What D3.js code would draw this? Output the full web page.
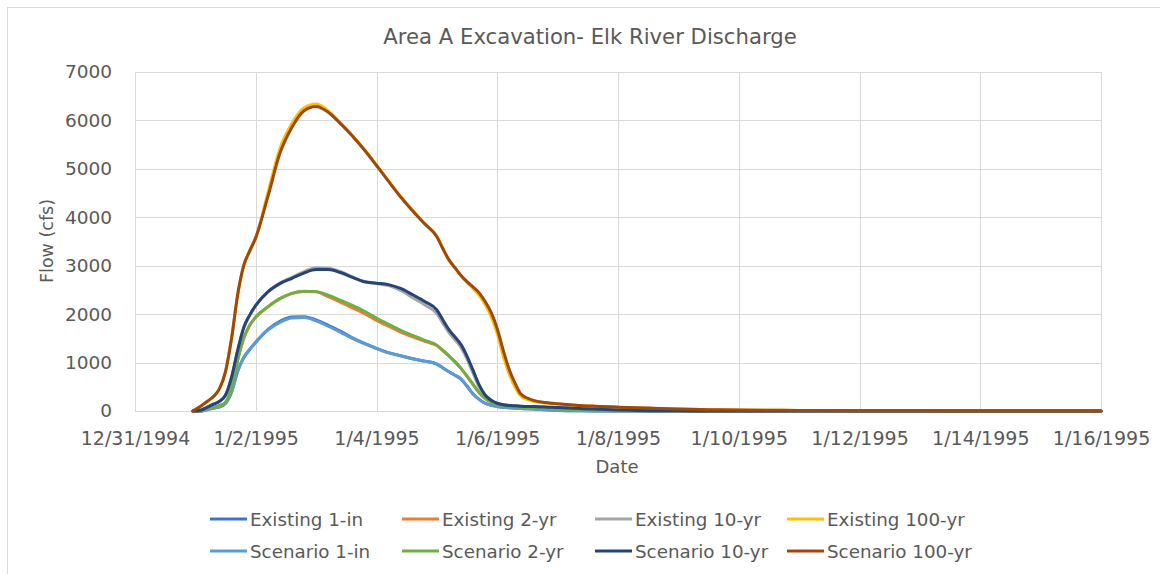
<!DOCTYPE html>
<html><head><meta charset="utf-8">
<script src="https://cdn.jsdelivr.net/npm/d3@7"></script>
<style>
html,body{margin:0;padding:0;background:#fff;}
svg{display:block;font-family:"DejaVu Sans",sans-serif;}
</style></head>
<body><svg id="chart" width="1160" height="574"></svg>
<script>
// ---- DATA ----
const title = "Area A Excavation- Elk River Discharge";
const xTitle = "Date";
const yTitle = "Flow (cfs)";
const startDate = new Date(1994, 11, 31);
const xTickDays = [0, 2, 4, 6, 8, 10, 12, 14, 16];
const yTicks = [0, 1000, 2000, 3000, 4000, 5000, 6000, 7000];
// time in days since 12/31/1994 00:00
const days = [0.96,1.0,1.1,1.2,1.3,1.4,1.5,1.6,1.7,1.8,1.9,2.0,2.2,2.4,2.6,2.8,3.0,3.2,3.4,3.6,3.8,4.0,4.2,4.4,4.6,4.8,5.0,5.1,5.2,5.3,5.4,5.5,5.6,5.7,5.8,5.9,6.0,6.1,6.2,6.3,6.4,6.6,6.8,7.0,7.3,7.6,8.0,8.5,9.0,9.5,10.0,11.0,12.0,13.0,14.0,15.0,16.0];

const existing1in  = [0,0,0,30,60,85,160,400,820,1100,1270,1420,1680,1850,1940,1945,1880,1770,1650,1510,1395,1295,1205,1140,1080,1030,970,890,810,740,660,510,350,240,160,120,95,76,65,58,50,40,25,10,5,2,1,1,1,1,1,1,1,1,1,1,1];
const existing2yr  = [0,0,5,50,80,110,180,480,1050,1500,1770,1940,2150,2320,2430,2470,2460,2360,2250,2130,2010,1870,1750,1630,1530,1440,1350,1245,1135,1015,875,715,545,378,258,184,140,105,90,82,76,65,50,38,22,12,5,2,1,1,1,1,1,1,1,1,1];
const existing10yr = [0,0,20,80,140,200,330,700,1250,1720,1980,2180,2460,2640,2760,2880,2960,2950,2880,2770,2670,2630,2590,2490,2340,2190,2010,1810,1620,1470,1310,1070,780,500,310,210,155,128,113,106,100,92,85,70,55,40,22,6,3,2,1,1,1,1,1,1,1];
const existing100yr= [0,30,110,200,300,460,820,1520,2380,3000,3320,3580,4500,5420,5940,6260,6340,6200,5950,5690,5400,5080,4750,4430,4140,3870,3610,3360,3120,2950,2790,2650,2530,2390,2200,1950,1600,1130,760,480,300,200,165,145,118,98,78,58,40,28,20,12,5,3,2,1,1];
const scenario1in  = [0,0,0,30,60,85,160,400,820,1100,1270,1420,1670,1830,1920,1930,1860,1750,1630,1500,1390,1290,1200,1140,1080,1030,970,890,810,740,660,510,350,240,160,120,95,76,65,58,50,40,25,10,5,2,1,1,1,1,1,1,1,1,1,1,1];
const scenario2yr  = [0,0,5,50,80,110,180,480,1050,1500,1770,1940,2150,2320,2430,2475,2465,2390,2290,2180,2060,1920,1790,1665,1560,1460,1360,1250,1140,1020,880,720,550,380,260,185,140,105,90,82,76,65,50,38,22,12,5,2,1,1,1,1,1,1,1,1,1];
const scenario10yr = [0,0,20,80,140,200,330,700,1250,1720,1980,2180,2460,2630,2740,2850,2920,2920,2860,2760,2670,2640,2610,2530,2400,2260,2085,1880,1680,1530,1370,1130,840,540,330,220,160,130,115,108,100,92,85,70,55,40,22,6,3,2,1,1,1,1,1,1,1];
const scenario100yr= [0,30,110,200,300,460,820,1500,2400,3000,3300,3580,4420,5320,5860,6200,6290,6170,5940,5680,5390,5070,4740,4420,4130,3860,3600,3350,3120,2960,2800,2670,2560,2440,2260,2030,1700,1250,850,560,340,220,175,150,120,100,80,60,40,28,20,12,5,3,2,1,1];

const seriesNames = ["Existing 1-in","Existing 2-yr","Existing 10-yr","Existing 100-yr","Scenario 1-in","Scenario 2-yr","Scenario 10-yr","Scenario 100-yr"];
const seriesValues = [existing1in, existing2yr, existing10yr, existing100yr, scenario1in, scenario2yr, scenario10yr, scenario100yr];
const seriesColors = ["#4472C4","#ED7D31","#A5A5A5","#FFC000","#5B9BD5","#70AD47","#264478","#9E480E"];

// ---- CHART ----
const svg = d3.select("#chart");
const W = 1160, H = 574;
const plot = {left:135, right:1101, top:72, bottom:411};
const textColor = "#595959", gridColor = "#d9d9d9";
const fontMain = "'DejaVu Sans', sans-serif";

svg.append("rect").attr("x",7.5).attr("y",7.5).attr("width",W).attr("height",H)
  .attr("fill","#fff").attr("stroke",gridColor).attr("stroke-width",1);

const x = d3.scaleLinear().domain([0,16]).range([plot.left, plot.right]);
const y = d3.scaleLinear().domain([0,7000]).range([plot.bottom, plot.top]);
const fmtDate = d => { const dt = d3.timeDay.offset(startDate, d); return (dt.getMonth()+1)+"/"+dt.getDate()+"/"+dt.getFullYear(); };

// gridlines + axes
const yAxis = d3.axisLeft(y).tickValues(yTicks).tickSize(-(plot.right-plot.left)).tickPadding(23).tickFormat(d3.format("d"));
const gy = svg.append("g").attr("transform",`translate(${plot.left},0)`).call(yAxis);
gy.select(".domain").remove();
gy.selectAll(".tick line").attr("stroke",gridColor).attr("shape-rendering","crispEdges");
gy.selectAll(".tick text").attr("fill",textColor).style("font-size","18.5px").style("font-family",fontMain);

const xAxis = d3.axisBottom(x).tickValues(xTickDays).tickSize(-(plot.bottom-plot.top)).tickPadding(21).tickFormat(fmtDate);
const gx = svg.append("g").attr("transform",`translate(0,${plot.bottom})`).call(xAxis);
gx.select(".domain").remove();
gx.selectAll(".tick line").attr("stroke",gridColor).attr("shape-rendering","crispEdges");
gx.selectAll(".tick text").attr("fill",textColor).style("font-size","19px").style("font-family",fontMain);

// series
const line = d3.line().x((d,i)=>x(days[i])).y(d=>y(d)).curve(d3.curveMonotoneX);
seriesValues.forEach((vals,k)=>{
  svg.append("path").datum(vals).attr("d",line).attr("fill","none")
    .attr("stroke",seriesColors[k]).attr("stroke-width",3).attr("stroke-linejoin","round").attr("stroke-linecap","round");
});

// titles
svg.append("text").attr("x",590).attr("y",44).attr("text-anchor","middle")
  .attr("fill",textColor).style("font-size","21.2px").text(title);
svg.append("text").attr("x",617).attr("y",473).attr("text-anchor","middle")
  .attr("fill",textColor).style("font-size","18px").text(xTitle);
svg.append("text").attr("transform","translate(53,241) rotate(-90)").attr("text-anchor","middle")
  .attr("fill",textColor).style("font-size","17.5px").text(yTitle);

// legend
const legX = [210, 402, 595, 787];
const legY = [519, 551];
seriesNames.forEach((name,k)=>{
  const col = k % 4, row = Math.floor(k/4);
  const g = svg.append("g").attr("transform",`translate(${legX[col]},${legY[row]})`);
  g.append("line").attr("x1",0).attr("x2",37).attr("y1",0).attr("y2",0)
    .attr("stroke",seriesColors[k]).attr("stroke-width",3);
  g.append("text").attr("x",40).attr("y",6.5).attr("fill",textColor).style("font-size","18.3px").text(name);
});
</script></body></html>
